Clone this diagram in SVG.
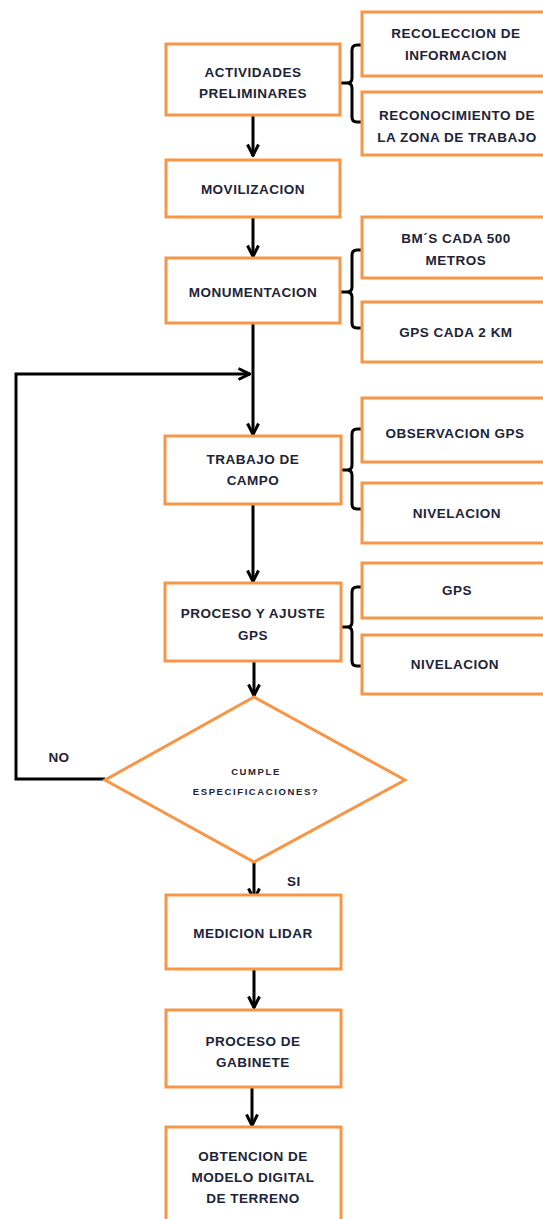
<svg xmlns="http://www.w3.org/2000/svg" width="543" height="1219" viewBox="0 0 543 1219">
<defs>
<marker id="ah" viewBox="0 0 14 14" refX="13" refY="7" markerWidth="14" markerHeight="14" markerUnits="userSpaceOnUse" orient="auto">
<path d="M1.5,1.5 L12.5,7 L1.5,12.5" fill="none" stroke="#000" stroke-width="3" stroke-linejoin="miter"/>
</marker>
<style>
.box{fill:#fff;stroke:#F79646;stroke-width:3}
.t{font-family:"Liberation Sans",Arial,sans-serif;font-size:13.5px;font-weight:bold;fill:#1c2339;text-anchor:middle;dominant-baseline:central;letter-spacing:0.5px}
.s{font-size:9.5px;letter-spacing:1.6px}
.ln{fill:none;stroke:#000;stroke-width:3}
.br{fill:none;stroke:#000;stroke-width:3}
</style>
</defs>
<rect width="543" height="1219" fill="#fff"/>
<g id="connectors">
<line class="ln" x1="253" y1="116" x2="253" y2="156" marker-end="url(#ah)"/>
<line class="ln" x1="253" y1="218" x2="253" y2="257" marker-end="url(#ah)"/>
<line class="ln" x1="253" y1="324" x2="253" y2="435" marker-end="url(#ah)"/>
<line class="ln" x1="253" y1="505" x2="253" y2="582" marker-end="url(#ah)"/>
<line class="ln" x1="254" y1="662" x2="254" y2="696" marker-end="url(#ah)"/>
<line class="ln" x1="254" y1="862" x2="254" y2="900" marker-end="url(#ah)"/>
<line class="ln" x1="254" y1="970" x2="254" y2="1008" marker-end="url(#ah)"/>
<line class="ln" x1="252" y1="1088" x2="252" y2="1126" marker-end="url(#ah)"/>
<polyline class="ln" points="105,779 16,779 16,374 250,374" marker-end="url(#ah)"/>
<path class="br" d="M362,45 H357 Q352,45 352,50 V78 Q352,83 347,83 H341 M347,83 Q352,83 352,88 V117 Q352,122 357,122 H362"/>
<path class="br" d="M362,250 H357 Q352,250 352,255 V287 Q352,292 347,292 H341 M347,292 Q352,292 352,297 V323 Q352,328 357,328 H362"/>
<path class="br" d="M362,429 H357 Q352,429 352,434 V465 Q352,470 347,470 H341 M347,470 Q352,470 352,475 V504 Q352,509 357,509 H362"/>
<path class="br" d="M362,587 H357 Q352,587 352,592 V622 Q352,627 347,627 H341 M347,627 Q352,627 352,632 V661 Q352,666 357,666 H362"/>
</g>
<g id="n1"><rect class="box" x="166" y="44" width="174" height="71"/><text class="t" x="253" y="72">ACTIVIDADES</text><text class="t" x="253" y="93">PRELIMINARES</text></g>
<g id="n1a"><rect class="box" x="362" y="12" width="200" height="64"/><text class="t" x="456" y="33">RECOLECCION DE</text><text class="t" x="456" y="55">INFORMACION</text></g>
<g id="n1b"><rect class="box" x="362" y="92" width="200" height="63"/><text class="t" x="457" y="115">RECONOCIMIENTO DE</text><text class="t" x="457" y="137">LA ZONA DE TRABAJO</text></g>
<g id="n2"><rect class="box" x="166" y="160" width="174" height="57"/><text class="t" x="253" y="189">MOVILIZACION</text></g>
<g id="n3"><rect class="box" x="166" y="258" width="174" height="65"/><text class="t" x="253" y="292">MONUMENTACION</text></g>
<g id="n3a"><rect class="box" x="362" y="217" width="200" height="61"/><text class="t" x="456" y="238">BM´S CADA 500</text><text class="t" x="456" y="260">METROS</text></g>
<g id="n3b"><rect class="box" x="362" y="302" width="200" height="60"/><text class="t" x="456" y="332">GPS CADA 2 KM</text></g>
<g id="n4"><rect class="box" x="165" y="436" width="176" height="68"/><text class="t" x="253" y="459">TRABAJO DE</text><text class="t" x="253" y="480">CAMPO</text></g>
<g id="n4a"><rect class="box" x="362" y="398" width="200" height="64"/><text class="t" x="455" y="433">OBSERVACION GPS</text></g>
<g id="n4b"><rect class="box" x="362" y="483" width="200" height="60"/><text class="t" x="457" y="513">NIVELACION</text></g>
<g id="n5"><rect class="box" x="165" y="583" width="176" height="78"/><text class="t" x="253" y="613">PROCESO Y AJUSTE</text><text class="t" x="253" y="635">GPS</text></g>
<g id="n5a"><rect class="box" x="362" y="563" width="200" height="55"/><text class="t" x="457" y="590">GPS</text></g>
<g id="n5b"><rect class="box" x="362" y="635" width="200" height="59"/><text class="t" x="455" y="664">NIVELACION</text></g>
<g id="d1"><polygon class="box" points="254,697 405,780 254,862 105,780"/><text class="t s" x="256" y="771">CUMPLE</text><text class="t s" x="256" y="791">ESPECIFICACIONES?</text></g>
<g id="lbl-no"><text class="t" x="59" y="757">NO</text></g>
<g id="lbl-si"><text class="t" x="294" y="881">SI</text></g>
<g id="n6"><rect class="box" x="166" y="895" width="175" height="74"/><text class="t" x="253" y="933">MEDICION LIDAR</text></g>
<g id="n7"><rect class="box" x="166" y="1010" width="175" height="77"/><text class="t" x="253" y="1041">PROCESO DE</text><text class="t" x="253" y="1062">GABINETE</text></g>
<g id="n8"><rect class="box" x="166" y="1127" width="175" height="110"/><text class="t" x="253" y="1156">OBTENCION DE</text><text class="t" x="253" y="1177">MODELO DIGITAL</text><text class="t" x="253" y="1198">DE TERRENO</text></g>
</svg>
